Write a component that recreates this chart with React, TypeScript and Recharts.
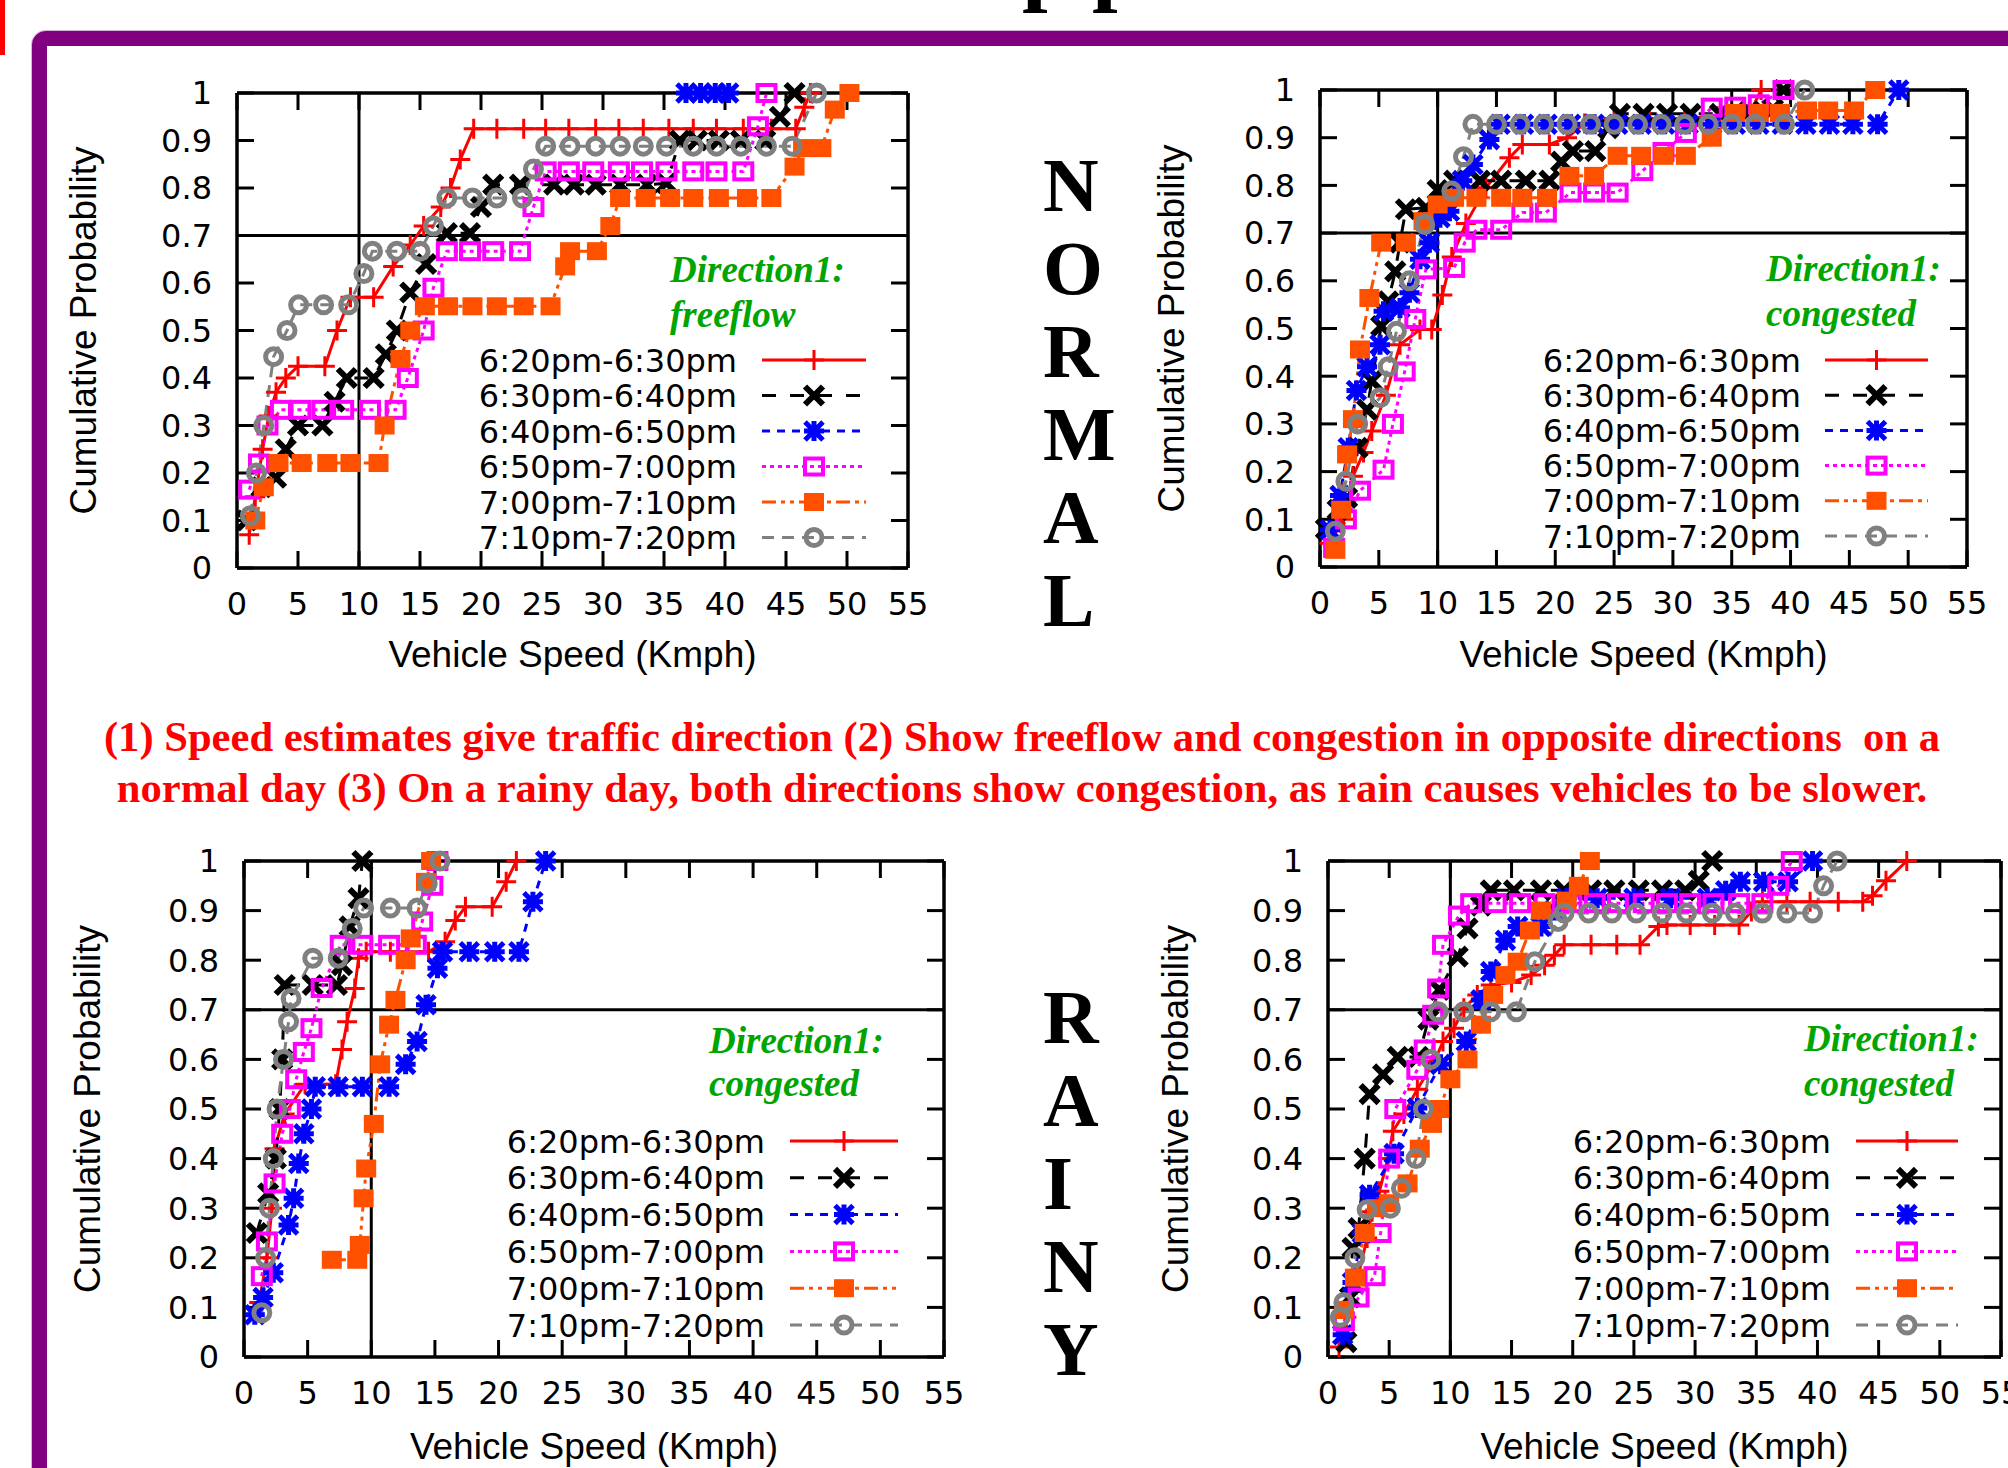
import React from 'react';
import { LineChart, Line, XAxis, YAxis, ReferenceLine } from 'recharts';

type Pt = [number, number];

const SPEED_TICKS = [0, 5, 10, 15, 20, 25, 30, 35, 40, 45, 50, 55];
const PROB_TICKS = [0, 0.1, 0.2, 0.3, 0.4, 0.5, 0.6, 0.7, 0.8, 0.9, 1];
const SLOTS = ['6:20pm-6:30pm', '6:30pm-6:40pm', '6:40pm-6:50pm', '6:50pm-7:00pm', '7:00pm-7:10pm', '7:10pm-7:20pm'];

// normal day, direction 1 freeflow
const nfRed: Pt[] = [[1, 0.07], [1.5, 0.15], [2.1, 0.25], [2.6, 0.32], [3.2, 0.37], [4, 0.4], [5, 0.425], [7.2, 0.425], [8.2, 0.5], [9.3, 0.57], [11.2, 0.57], [12.8, 0.635], [14.2, 0.68], [15.3, 0.72], [16.7, 0.76], [17.5, 0.8], [18.3, 0.86], [19.4, 0.925], [21.3, 0.925], [23.5, 0.925], [25.3, 0.925], [27.2, 0.925], [29.4, 0.925], [31.3, 0.925], [33.3, 0.925], [35.4, 0.925], [37.4, 0.925], [39.3, 0.925], [41.5, 0.925], [43.8, 0.925], [45.8, 0.925], [46.5, 0.97], [47, 1]];
const nfBlack: Pt[] = [[0.8, 0.1], [2, 0.17], [3.2, 0.19], [4, 0.25], [5, 0.3], [7, 0.3], [8, 0.35], [9, 0.4], [11.2, 0.4], [12.2, 0.45], [13.1, 0.5], [14.2, 0.58], [15.5, 0.64], [17.2, 0.705], [19.1, 0.705], [20, 0.76], [21, 0.807], [23.2, 0.807], [26, 0.807], [27.6, 0.807], [29.4, 0.807], [31.4, 0.807], [33.6, 0.807], [35.2, 0.81], [36.3, 0.9], [37.7, 0.9], [39.5, 0.9], [41.3, 0.9], [43.3, 0.9], [44.5, 0.95], [45.7, 1]];
const nfBlue: Pt[] = [[36.8, 1], [38, 1], [39.2, 1], [40.3, 1]];
const nfMagenta: Pt[] = [[1, 0.165], [1.8, 0.22], [2.5, 0.3], [3.6, 0.333], [5.2, 0.333], [7, 0.333], [8.7, 0.333], [10.9, 0.333], [13, 0.333], [14, 0.4], [15.3, 0.5], [16.1, 0.59], [17.2, 0.667], [19.1, 0.667], [21, 0.667], [23.2, 0.667], [24.3, 0.76], [25.3, 0.835], [27.2, 0.835], [29.2, 0.835], [31.3, 0.835], [33.2, 0.835], [35.2, 0.835], [37.4, 0.835], [39.3, 0.835], [41.5, 0.835], [42.7, 0.93], [43.4, 1]];
const nfOrange: Pt[] = [[1.5, 0.1], [2.2, 0.17], [3.4, 0.221], [5.3, 0.221], [7.4, 0.221], [9.3, 0.221], [11.6, 0.221], [12.1, 0.3], [13.4, 0.44], [14.2, 0.5], [15.4, 0.551], [17.3, 0.551], [19.3, 0.551], [21.3, 0.551], [23.5, 0.551], [25.7, 0.551], [26.9, 0.635], [27.3, 0.667], [29.5, 0.667], [30.6, 0.72], [31.4, 0.779], [33.5, 0.779], [35.5, 0.779], [37.4, 0.779], [39.5, 0.779], [41.8, 0.779], [43.8, 0.779], [45.7, 0.845], [46.4, 0.884], [47.9, 0.884], [49, 0.965], [50.2, 1]];
const nfGray: Pt[] = [[1.1, 0.11], [1.6, 0.2], [2.2, 0.3], [3, 0.445], [4.1, 0.5], [5.05, 0.554], [7.1, 0.554], [9.15, 0.554], [10.4, 0.62], [11.1, 0.667], [13.1, 0.667], [15, 0.667], [16.1, 0.72], [17.2, 0.779], [19.3, 0.779], [21.3, 0.779], [23.4, 0.779], [24.3, 0.84], [25.3, 0.888], [27.3, 0.888], [29.4, 0.888], [31.4, 0.888], [33.3, 0.888], [35.2, 0.888], [37.4, 0.888], [39.3, 0.888], [41.3, 0.888], [43.4, 0.888], [45.5, 0.888], [47.5, 1]];

// normal day, direction 1 congested
const ncRed: Pt[] = [[0.8, 0.05], [2, 0.1], [2.8, 0.19], [3.7, 0.24], [4.4, 0.285], [5.6, 0.36], [6.8, 0.466], [8.5, 0.498], [9.5, 0.498], [10.4, 0.57], [11.2, 0.65], [12.4, 0.72], [14.1, 0.795], [16.1, 0.858], [17.2, 0.886], [19.5, 0.886], [21, 0.9], [22.5, 0.93], [25, 0.94], [28, 0.94], [31, 0.94], [34, 0.945], [36.5, 0.95], [37.5, 1]];
const ncBlack: Pt[] = [[0.5, 0.08], [1.5, 0.12], [2.3, 0.145], [3.2, 0.25], [4, 0.33], [4.4, 0.39], [5.2, 0.505], [5.8, 0.557], [6.4, 0.62], [6.8, 0.68], [7.3, 0.75], [9, 0.753], [10, 0.79], [11.4, 0.81], [13.6, 0.81], [15.4, 0.81], [17.5, 0.81], [19.5, 0.81], [20.5, 0.85], [21.5, 0.872], [23.4, 0.872], [24.5, 0.92], [25.5, 0.95], [27.5, 0.95], [29.5, 0.95], [31.5, 0.95], [34, 0.95], [36.5, 0.955], [38.5, 0.96], [39.4, 1]];
const ncBlue: Pt[] = [[0.85, 0.078], [1.7, 0.15], [2.4, 0.25], [3.1, 0.37], [4, 0.42], [5.1, 0.466], [5.4, 0.536], [6.8, 0.543], [7.6, 0.575], [8.5, 0.645], [9.3, 0.68], [10.2, 0.732], [11, 0.746], [12.1, 0.81], [13, 0.844], [14.4, 0.896], [15.3, 0.928], [17.3, 0.928], [19.3, 0.928], [21.3, 0.928], [23.3, 0.928], [25.3, 0.928], [27.3, 0.928], [29.3, 0.928], [31.3, 0.928], [33.3, 0.928], [35.3, 0.928], [37.3, 0.928], [39.3, 0.928], [41.3, 0.928], [43.3, 0.928], [45.3, 0.928], [47.4, 0.928], [49.2, 1]];
const ncMagenta: Pt[] = [[1.2, 0.04], [2.2, 0.1], [3.4, 0.16], [5.4, 0.204], [6.2, 0.3], [7.2, 0.41], [8.1, 0.52], [9, 0.624], [11.4, 0.627], [12.3, 0.68], [13.3, 0.707], [15.4, 0.707], [17.2, 0.743], [19.2, 0.743], [21.3, 0.785], [23.3, 0.785], [25.3, 0.785], [27.4, 0.83], [29.2, 0.87], [31.1, 0.91], [33.3, 0.963], [35.3, 0.965], [37.3, 0.97], [39.4, 1]];
const ncOrange: Pt[] = [[1.3, 0.036], [1.8, 0.12], [2.3, 0.236], [2.8, 0.31], [3.4, 0.456], [4.2, 0.564], [5.2, 0.68], [7.3, 0.68], [8.8, 0.725], [10, 0.76], [11.4, 0.774], [13.3, 0.774], [15.4, 0.774], [17.2, 0.774], [19.3, 0.774], [21.2, 0.82], [23.3, 0.82], [25.3, 0.862], [27.3, 0.862], [29.2, 0.862], [31.1, 0.862], [33.3, 0.9], [35.3, 0.952], [37.3, 0.952], [39.1, 0.952], [41.4, 0.957], [43.2, 0.957], [45.4, 0.957], [47.2, 1]];
const ncGray: Pt[] = [[1.3, 0.075], [2.2, 0.18], [3.2, 0.3], [5.1, 0.355], [5.8, 0.42], [6.5, 0.494], [7.6, 0.6], [8.9, 0.718], [11.2, 0.788], [12.2, 0.86], [13, 0.928], [15, 0.928], [17, 0.928], [19, 0.928], [21, 0.928], [23, 0.928], [25, 0.928], [27, 0.928], [29, 0.928], [31, 0.928], [33, 0.928], [35, 0.928], [37, 0.928], [39.5, 0.928], [41.2, 1]];

// rainy day, first panel
const raRed: Pt[] = [[1.2, 0.11], [1.8, 0.2], [2.2, 0.3], [2.4, 0.42], [3.2, 0.49], [4.8, 0.55], [7.2, 0.55], [7.7, 0.62], [8.1, 0.676], [8.7, 0.743], [9, 0.804], [9.6, 0.817], [11.5, 0.817], [14.5, 0.817], [15.8, 0.837], [16.6, 0.88], [17.4, 0.908], [19.5, 0.908], [20.6, 0.958], [21.4, 1]];
const raBlack: Pt[] = [[1, 0.25], [1.9, 0.33], [2.5, 0.4], [2.8, 0.5], [3, 0.6], [3.2, 0.75], [5.4, 0.75], [7.3, 0.75], [7.7, 0.79], [8.3, 0.868], [9, 0.925], [9.3, 1]];
const raBlue: Pt[] = [[0.85, 0.085], [1.5, 0.12], [2.3, 0.17], [3.5, 0.266], [3.9, 0.32], [4.3, 0.39], [4.7, 0.45], [5.3, 0.5], [5.6, 0.545], [7.4, 0.545], [9.3, 0.545], [11.4, 0.545], [12.7, 0.59], [13.6, 0.636], [14.3, 0.71], [15.2, 0.784], [15.6, 0.817], [17.7, 0.817], [19.7, 0.817], [21.6, 0.817], [22.7, 0.918], [23.7, 1]];
const raMagenta: Pt[] = [[1.4, 0.163], [1.8, 0.233], [2.4, 0.35], [3, 0.45], [3.6, 0.5], [4.1, 0.56], [4.7, 0.615], [5.3, 0.663], [6.1, 0.744], [7.6, 0.831], [9.3, 0.831], [11.4, 0.831], [13.5, 0.831], [14, 0.878], [14.8, 0.95], [15.2, 1]];
const raOrange: Pt[] = [[6.9, 0.196], [8.9, 0.196], [9.1, 0.226], [9.4, 0.32], [9.6, 0.38], [10.2, 0.47], [10.7, 0.59], [11.4, 0.67], [11.9, 0.72], [12.7, 0.8], [13.1, 0.844], [14.3, 0.958], [14.7, 1]];
const raGray: Pt[] = [[1.4, 0.089], [1.7, 0.2], [2, 0.3], [2.3, 0.4], [2.6, 0.5], [3.1, 0.6], [3.5, 0.676], [3.7, 0.723], [5.4, 0.804], [7.4, 0.804], [8.5, 0.864], [9.4, 0.905], [11.5, 0.905], [13.6, 0.905], [14.4, 0.955], [15.4, 1]];

// rainy day, second panel
const rbRed: Pt[] = [[0.9, 0.02], [1.5, 0.08], [2.3, 0.146], [3.2, 0.24], [3.6, 0.293], [4.2, 0.334], [4.9, 0.4], [5.3, 0.455], [6.2, 0.49], [7.3, 0.54], [8.7, 0.596], [9.4, 0.636], [10.3, 0.663], [11.1, 0.703], [12.2, 0.73], [13.3, 0.75], [15, 0.755], [16.6, 0.77], [17.7, 0.79], [18.5, 0.81], [19.3, 0.831], [21.5, 0.831], [23.6, 0.831], [25.5, 0.831], [27, 0.868], [27.7, 0.871], [29.6, 0.871], [31.6, 0.871], [33.6, 0.871], [34.6, 0.898], [35.5, 0.918], [37.5, 0.918], [39.4, 0.918], [41.7, 0.918], [43.7, 0.918], [44.5, 0.93], [45.6, 0.96], [47.3, 1]];
const rbBlack: Pt[] = [[1.5, 0.03], [1.8, 0.12], [2, 0.22], [2.5, 0.26], [3, 0.4], [3.4, 0.53], [4.5, 0.57], [5.7, 0.605], [7.4, 0.605], [8.2, 0.68], [9.1, 0.74], [10.6, 0.807], [11.4, 0.864], [12.5, 0.91], [13.3, 0.941], [15.2, 0.941], [17.4, 0.941], [19.3, 0.941], [21.5, 0.941], [23.4, 0.941], [25.4, 0.941], [27.3, 0.941], [29.2, 0.941], [30.3, 0.96], [31.4, 1]];
const rbBlue: Pt[] = [[1.2, 0.045], [2, 0.15], [2.8, 0.25], [3.4, 0.327], [5.4, 0.41], [7.3, 0.502], [9.2, 0.59], [11.3, 0.636], [12.5, 0.72], [13.3, 0.777], [14.5, 0.84], [15.5, 0.868], [17.4, 0.868], [18.5, 0.9], [19.5, 0.925], [22, 0.925], [25, 0.925], [28, 0.925], [31, 0.925], [32.5, 0.94], [33.7, 0.958], [35.6, 0.958], [37.6, 0.958], [39.6, 1]];
const rbMagenta: Pt[] = [[1.3, 0.072], [2.5, 0.12], [3.8, 0.163], [4.3, 0.25], [5, 0.4], [5.5, 0.5], [7.3, 0.579], [7.9, 0.62], [8.6, 0.69], [9, 0.743], [9.4, 0.831], [10.7, 0.89], [11.7, 0.915], [13.7, 0.915], [15.7, 0.915], [17.7, 0.915], [19.9, 0.915], [21.8, 0.915], [23.7, 0.915], [25.8, 0.915], [27.7, 0.915], [29.6, 0.915], [31.5, 0.915], [33.6, 0.915], [35.5, 0.915], [36.8, 0.95], [37.9, 1]];
const rbOrange: Pt[] = [[1.3, 0.095], [2.2, 0.16], [3, 0.25], [4, 0.3], [5, 0.31], [6.5, 0.35], [7.5, 0.42], [8.5, 0.47], [9.1, 0.5], [10, 0.56], [11.4, 0.6], [12.5, 0.67], [13.5, 0.73], [14.5, 0.77], [15.5, 0.797], [16.5, 0.86], [17.4, 0.9], [19.5, 0.92], [20.5, 0.95], [21.4, 1]];
const rbGray: Pt[] = [[1, 0.08], [1.3, 0.11], [2.2, 0.2], [3.2, 0.297], [5.1, 0.3], [6, 0.34], [7.2, 0.4], [7.8, 0.5], [8.4, 0.6], [9, 0.696], [11.1, 0.696], [13.3, 0.696], [15.4, 0.696], [16.9, 0.797], [18.8, 0.878], [19.3, 0.895], [21.3, 0.895], [23.2, 0.895], [25.2, 0.895], [27.3, 0.895], [29.3, 0.895], [31.4, 0.895], [33.3, 0.895], [35.5, 0.895], [37.5, 0.895], [39.6, 0.895], [40.5, 0.95], [41.6, 1]];

// gnuplot-ish line types, one per time slot
const STYLES = [
  { color: '#ff0000', dash: undefined as string | undefined, mark: 'plus' },
  { color: '#000000', dash: '14 14', mark: 'cross' },
  { color: '#0000ff', dash: '8 7', mark: 'star' },
  { color: '#ff00ff', dash: '4 4', mark: 'box' },
  { color: '#ff5000', dash: '14 5 4 5 4 5', mark: 'fbox' },
  { color: '#808080', dash: '12 8', mark: 'circle' },
];

const SANS = 'DejaVu Sans';
const TITLE = 'Liberation Sans';
const SERIF = 'Liberation Serif';
const GREEN = '#00a500';

const PANELS = [
  {
    box: { x: 237, y: 93, w: 671, h: 475 },
    series: [nfRed, nfBlack, nfBlue, nfMagenta, nfOrange, nfGray],
    sub: 'freeflow',
    legend: { right: 737, base: 371.5, step: 35.5, l0: 762, l1: 866 },
    dir: { x: 670, y1: 282, y2: 327 },
    yTitleX: 96,
    xTitleY: 667,
  },
  {
    box: { x: 1320, y: 90, w: 647, h: 477 },
    series: [ncRed, ncBlack, ncBlue, ncMagenta, ncOrange, ncGray],
    sub: 'congested',
    legend: { right: 1801, base: 371.5, step: 35.2, l0: 1825, l1: 1928 },
    dir: { x: 1766, y1: 281, y2: 326 },
    yTitleX: 1184,
    xTitleY: 667,
  },
  {
    box: { x: 244, y: 861, w: 700, h: 496 },
    series: [raRed, raBlack, raBlue, raMagenta, raOrange, raGray],
    sub: 'congested',
    legend: { right: 765, base: 1152.5, step: 36.8, l0: 790, l1: 898 },
    dir: { x: 709, y1: 1053, y2: 1096 },
    yTitleX: 100,
    xTitleY: 1459,
  },
  {
    box: { x: 1328, y: 861, w: 673, h: 496 },
    series: [rbRed, rbBlack, rbBlue, rbMagenta, rbOrange, rbGray],
    sub: 'congested',
    legend: { right: 1831, base: 1152.5, step: 36.8, l0: 1856, l1: 1958 },
    dir: { x: 1804, y1: 1051, y2: 1096 },
    yTitleX: 1188,
    xTitleY: 1459,
  },
];

function Marker({ kind, cx, cy, color }: { kind: string; cx?: number; cy?: number; color: string }) {
  if (cx == null || cy == null) return null;
  switch (kind) {
    case 'plus':
      return <path d={`M${cx - 10} ${cy}H${cx + 10}M${cx} ${cy - 10}V${cy + 10}`} stroke={color} strokeWidth={3} fill="none" />;
    case 'cross':
      return <path d={`M${cx - 9} ${cy - 9}L${cx + 9} ${cy + 9}M${cx - 9} ${cy + 9}L${cx + 9} ${cy - 9}`} stroke={color} strokeWidth={6} fill="none" />;
    case 'star':
      return (
        <path
          d={`M${cx - 9} ${cy - 9}L${cx + 9} ${cy + 9}M${cx - 9} ${cy + 9}L${cx + 9} ${cy - 9}M${cx} ${cy - 10}V${cy + 10}M${cx - 10} ${cy}H${cx + 10}`}
          stroke={color}
          strokeWidth={5}
          fill="none"
        />
      );
    case 'box':
      return <rect x={cx - 9} y={cy - 8} width={18} height={16} stroke={color} strokeWidth={4} fill="none" />;
    case 'fbox':
      return <rect x={cx - 10} y={cy - 9} width={20} height={18} fill={color} />;
    default:
      return <circle cx={cx} cy={cy} r={8} stroke={color} strokeWidth={5} fill="none" />;
  }
}

const ML = 180;
const MT = 24;
const MR = 24;
const XH = 60;
const TICK_PX = 17;

function Panel({ box, series }: { box: { x: number; y: number; w: number; h: number }; series: Pt[][] }) {
  const ty = TICK_PX / box.h;
  const tx = (TICK_PX * 55) / box.w;
  const tickStyle = { fontSize: 32, fontFamily: SANS, fill: '#000' };
  return (
    <div style={{ position: 'absolute', left: box.x - ML, top: box.y - MT }}>
      <LineChart width={box.w + ML + MR} height={box.h + MT + XH} margin={{ top: MT, right: MR, left: 0, bottom: 0 }}>
        <XAxis
          type="number"
          dataKey="x"
          domain={[0, 55]}
          ticks={SPEED_TICKS}
          interval={0}
          axisLine={false}
          tickLine={false}
          tickSize={6}
          tickMargin={18}
          height={XH}
          tick={tickStyle}
        />
        <YAxis
          type="number"
          domain={[0, 1]}
          ticks={PROB_TICKS}
          interval={0}
          axisLine={false}
          tickLine={false}
          tickSize={6}
          tickMargin={19}
          width={ML}
          tick={tickStyle}
          tickFormatter={(v: number) => (v === 0 || v === 1 ? String(v) : v.toFixed(1))}
        />
        {SPEED_TICKS.map((t) => (
          <ReferenceLine key={`b${t}`} segment={[{ x: t, y: 0 }, { x: t, y: ty }]} stroke="#000" strokeWidth={3} />
        ))}
        {SPEED_TICKS.map((t) => (
          <ReferenceLine key={`t${t}`} segment={[{ x: t, y: 1 }, { x: t, y: 1 - ty }]} stroke="#000" strokeWidth={3} />
        ))}
        {PROB_TICKS.map((p) => (
          <ReferenceLine key={`l${p}`} segment={[{ x: 0, y: p }, { x: tx, y: p }]} stroke="#000" strokeWidth={3} />
        ))}
        {PROB_TICKS.map((p) => (
          <ReferenceLine key={`r${p}`} segment={[{ x: 55, y: p }, { x: 55 - tx, y: p }]} stroke="#000" strokeWidth={3} />
        ))}
        <ReferenceLine x={10} stroke="#000" strokeWidth={3} />
        <ReferenceLine y={0.7} stroke="#000" strokeWidth={3} />
        <ReferenceLine x={0} stroke="#000" strokeWidth={3.5} />
        <ReferenceLine x={55} stroke="#000" strokeWidth={3.5} />
        <ReferenceLine y={0} stroke="#000" strokeWidth={3.5} />
        <ReferenceLine y={1} stroke="#000" strokeWidth={3.5} />
        {series.map((pts, i) => {
          const st = STYLES[i];
          return (
            <Line
              key={SLOTS[i]}
              name={SLOTS[i]}
              data={pts.map(([x, y]) => ({ x, y }))}
              dataKey="y"
              type="linear"
              stroke={st.color}
              strokeWidth={3}
              strokeDasharray={st.dash}
              isAnimationActive={false}
              activeDot={false}
              dot={(p: any) => <Marker key={`d${i}-${p.index}`} kind={st.mark} cx={p.cx} cy={p.cy} color={st.color} />}
            />
          );
        })}
      </LineChart>
    </div>
  );
}

const NORMAL = ['N', 'O', 'R', 'M', 'A', 'L'];
const RAINY = ['R', 'A', 'I', 'N', 'Y'];
const CAPTION = [
  '(1) Speed estimates give traffic direction (2) Show freeflow and congestion in opposite directions  on a',
  'normal day (3) On a rainy day, both directions show congestion, as rain causes vehicles to be slower.',
];

export default function App() {
  return (
    <div style={{ position: 'absolute', left: 0, top: 0, width: 2008, height: 1468, overflow: 'hidden', background: '#fff' }}>
      <div
        style={{
          position: 'absolute',
          left: 32,
          top: 31,
          width: 2100,
          height: 1600,
          border: '15px solid #800080',
          borderRadius: 14,
          boxShadow: '0 0 0 1px rgba(128,0,128,0.3)',
        }}
      />
      {PANELS.map((p, i) => (
        <Panel key={i} box={p.box} series={p.series} />
      ))}
      <svg width={2008} height={1468} style={{ position: 'absolute', left: 0, top: 0, pointerEvents: 'none' }}>
        <rect x={0} y={0} width={5} height={55} fill="#ff0000" />
        {/* bottoms of the slide title, cut off by the page edge */}
        <text x={1022} y={-6} fontSize={92} fontWeight="bold" fontFamily={SERIF}>p</text>
        <text x={1092} y={-6} fontSize={92} fontWeight="bold" fontFamily={SERIF}>p</text>
        {NORMAL.map((c, i) => (
          <text key={`n${i}`} x={1043} y={211 + i * 83} fontSize={77} fontWeight="bold" fontFamily={SERIF}>{c}</text>
        ))}
        {RAINY.map((c, i) => (
          <text key={`r${i}`} x={1043} y={1043 + i * 83} fontSize={77} fontWeight="bold" fontFamily={SERIF}>{c}</text>
        ))}
        {CAPTION.map((s, i) => (
          <text key={`c${i}`} x={1022} y={751 + i * 51} textAnchor="middle" fontSize={42.6} fontWeight="bold" fontFamily={SERIF} fill="#ff0000" style={{ whiteSpace: 'pre' }}>
            {s}
          </text>
        ))}
        {PANELS.map((p, k) => {
          const cx = p.box.x + p.box.w / 2;
          const cy = p.box.y + p.box.h / 2;
          return (
            <g key={`p${k}`}>
              <text x={cx} y={p.xTitleY} textAnchor="middle" fontSize={37} fontFamily={TITLE}>Vehicle Speed (Kmph)</text>
              <text x={p.yTitleX} y={cy} textAnchor="middle" fontSize={37} fontFamily={TITLE} transform={`rotate(-90 ${p.yTitleX} ${cy})`}>
                Cumulative Probability
              </text>
              <text x={p.dir.x} y={p.dir.y1} fontSize={37} fontWeight="bold" fontStyle="italic" fontFamily={SERIF} fill={GREEN}>Direction1:</text>
              <text x={p.dir.x} y={p.dir.y2} fontSize={37} fontWeight="bold" fontStyle="italic" fontFamily={SERIF} fill={GREEN}>{p.sub}</text>
              {SLOTS.map((s, i) => {
                const by = p.legend.base + i * p.legend.step;
                const ly = by - 11.5;
                const st = STYLES[i];
                return (
                  <g key={s}>
                    <text x={p.legend.right} y={by} textAnchor="end" fontSize={32} fontFamily={SANS}>{s}</text>
                    <line x1={p.legend.l0} x2={p.legend.l1} y1={ly} y2={ly} stroke={st.color} strokeWidth={3} strokeDasharray={st.dash} />
                    <Marker kind={st.mark} cx={(p.legend.l0 + p.legend.l1) / 2} cy={ly} color={st.color} />
                  </g>
                );
              })}
            </g>
          );
        })}
      </svg>
    </div>
  );
}
